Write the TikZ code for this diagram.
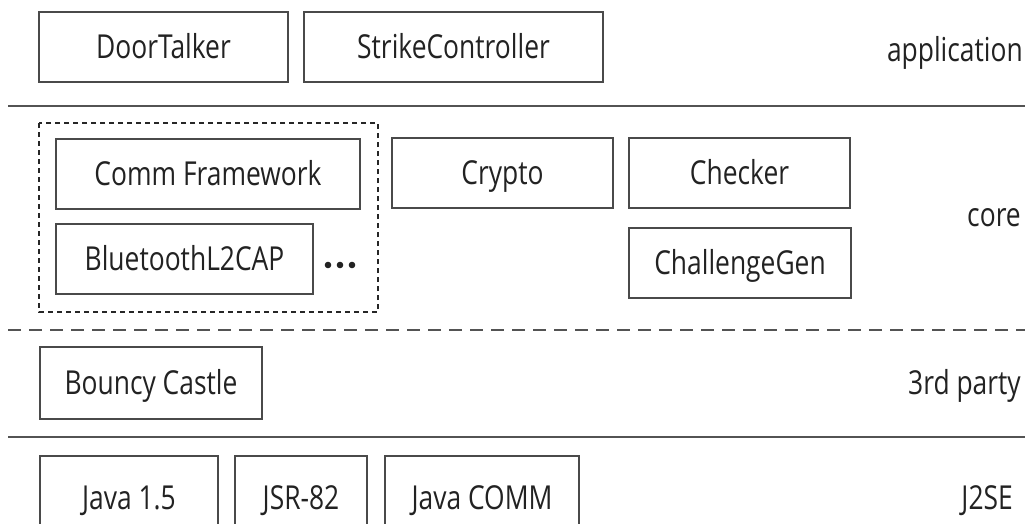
\documentclass[tikz,border=0pt]{standalone}
\usepackage{fontspec}
\setmainfont[FakeStretch=0.8]{Open Sans}
\definecolor{edge}{HTML}{4A4A4A}
\definecolor{ink}{HTML}{222222}
\begin{document}
\begin{tikzpicture}[x=1pt,y=-1pt,
  lbl/.style={font=\fontsize{33}{40}\selectfont, text=ink, inner sep=0pt,
              text height=23pt, text depth=0pt},
  blk/.style={lbl, draw=edge, line width=2pt, minimum height=70pt, anchor=center},
  layer/.style={lbl, anchor=east},
  rule/.style={draw=edge!95, line width=2.4pt},
  group/.style={draw=black!85, line width=2.8pt, dash pattern=on 5pt off 4pt},
  dot/.style={fill=ink}]
\useasboundingbox (0,0) rectangle (1028,523);
\clip (0,0) rectangle (1028,523);
\fill[white] (0,0) rectangle (1028,523);

% application layer
\node[blk, minimum width=249pt] (door)   at (163.5,47)  {DoorTalker};
\node[blk, minimum width=299pt] (strike) at (453.5,47)  {StrikeController};
\node[layer] (lapp) at (1023,50) {application};

% separator between application and core
\coordinate (s1l) at (8,106);  \coordinate (s1r) at (1025,106);
\draw[rule] (s1l) -- (s1r);

% core layer
\coordinate (gtl) at (39,123); \coordinate (gbr) at (378,312);
\draw[group] (gtl) rectangle (gbr);
\node[blk, minimum width=304pt] (comm)    at (208,174)    {Comm Framework};
\node[blk, minimum width=257pt] (bt)      at (184.5,259)  {BluetoothL2CAP};
% ellipsis after the transport box
\coordinate (more) at (340,265);
\foreach \dx in {-12,0,12} \fill[dot] ([xshift=\dx pt]more) circle (3.3pt);
\node[blk, minimum width=221pt] (crypto)  at (502.5,173)  {Crypto};
\node[blk, minimum width=221pt] (checker) at (739.5,172.5){Checker};
\node[blk, minimum width=222pt] (chal)    at (740,263)    {ChallengeGen};
\node[layer] (lcore) at (1021,215) {core};

% separator between core and third-party layer
\coordinate (s2l) at (8,330);  \coordinate (s2r) at (1025,330);
\draw[rule, dash pattern=on 13pt off 8pt] (s2l) -- (s2r);

% third-party layer
\node[blk, minimum width=222pt, minimum height=72pt] (bc) at (151,383) {Bouncy Castle};
\node[layer] (l3rd) at (1021,383) {3rd party};

% separator between third-party and platform layer
\coordinate (s3l) at (8,437);  \coordinate (s3r) at (1025,437);
\draw[rule] (s3l) -- (s3r);

% platform layer (boxes run past the lower edge)
\node[blk, minimum width=178pt, minimum height=84pt] (java) at (129,498) {Java 1.5};
\node[blk, minimum width=132pt, minimum height=84pt] (jsr)  at (301,498) {JSR-82};
\node[blk, minimum width=194pt, minimum height=84pt] (jcomm) at (482,498) {Java COMM};
\node[layer] (lj2se) at (1013,498) {J2SE};
\end{tikzpicture}
\end{document}
